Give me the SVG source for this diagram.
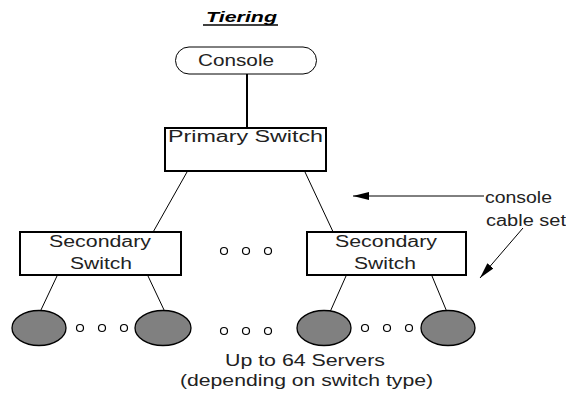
<svg xmlns="http://www.w3.org/2000/svg" width="566" height="393" viewBox="0 0 566 393">
<style>
text{font-family:"Liberation Sans",Arial,sans-serif;font-size:16px;fill:#222}
.title{font-weight:bold;font-style:italic;font-size:15px;fill:#000}
.box{fill:#fff;stroke:#000;stroke-width:2}
.cons{fill:#fff;stroke:#000;stroke-width:1}
.srv{fill:#808080;stroke:#000;stroke-width:1.3}
.dot{fill:#fff;stroke:#000;stroke-width:1.2}
.ln{stroke:#000;stroke-width:1;fill:none}
</style>
<defs>
<marker id="ah" viewBox="0 0 16 8" refX="16" refY="4" markerWidth="16" markerHeight="8" markerUnits="userSpaceOnUse" orient="auto">
<path d="M0,0 L16,4 L0,8 Z" fill="#000"/>
</marker>
</defs>
<text class="title" x="206" y="22" textLength="71" lengthAdjust="spacingAndGlyphs">Tiering</text>
<line x1="203" y1="25" x2="278" y2="25" stroke="#000" stroke-width="1.5"/>
<g id="connectors">
<line x1="247" y1="74" x2="247" y2="127" stroke="#000" stroke-width="2"/>
<line class="ln" x1="187" y1="172" x2="152" y2="234"/>
<line class="ln" x1="305" y1="172" x2="335" y2="236"/>
<line class="ln" x1="57" y1="276" x2="40" y2="312"/>
<line class="ln" x1="148" y1="276" x2="165" y2="312"/>
<line class="ln" x1="346" y1="276" x2="330" y2="312"/>
<line class="ln" x1="432" y1="276" x2="447" y2="312"/>
<line class="ln" x1="484" y1="196" x2="353" y2="196" marker-end="url(#ah)"/>
<line class="ln" x1="523" y1="228" x2="480" y2="278" marker-end="url(#ah)"/>
</g>
<g id="console">
<rect class="cons" x="175.5" y="47" width="141" height="27" rx="13.5" ry="13.5"/>
<text x="198" y="66" textLength="76" lengthAdjust="spacingAndGlyphs">Console</text>
</g>
<g id="primary-switch">
<rect class="box" x="165" y="128" width="161" height="43"/>
<text x="168" y="142" textLength="155" lengthAdjust="spacingAndGlyphs">Primary Switch</text>
</g>
<g id="secondary-switch-left">
<rect class="box" x="20" y="232" width="161" height="43"/>
<text x="49" y="247" textLength="102" lengthAdjust="spacingAndGlyphs">Secondary</text>
<text x="70" y="269" textLength="62" lengthAdjust="spacingAndGlyphs">Switch</text>
</g>
<g id="secondary-switch-right">
<rect class="box" x="307" y="232" width="159" height="43"/>
<text x="335" y="247" textLength="102" lengthAdjust="spacingAndGlyphs">Secondary</text>
<text x="354" y="269" textLength="62" lengthAdjust="spacingAndGlyphs">Switch</text>
</g>
<g id="dots-middle-top">
<circle class="dot" cx="224" cy="251" r="3.5"/>
<circle class="dot" cx="246" cy="251" r="3.5"/>
<circle class="dot" cx="268" cy="251" r="3.5"/>
</g>
<g id="servers-left">
<ellipse class="srv" cx="39" cy="328" rx="27" ry="17.5"/>
<ellipse class="srv" cx="163" cy="328" rx="28" ry="17.5"/>
<circle class="dot" cx="80" cy="328" r="3.5"/>
<circle class="dot" cx="102" cy="328" r="3.5"/>
<circle class="dot" cx="124" cy="328" r="3.5"/>
</g>
<g id="dots-middle-bottom">
<circle class="dot" cx="224" cy="331" r="3.5"/>
<circle class="dot" cx="246" cy="331" r="3.5"/>
<circle class="dot" cx="268" cy="331" r="3.5"/>
</g>
<g id="servers-right">
<ellipse class="srv" cx="324" cy="328" rx="27" ry="17.5"/>
<ellipse class="srv" cx="448" cy="328" rx="27" ry="17.5"/>
<circle class="dot" cx="365" cy="328" r="3.5"/>
<circle class="dot" cx="387" cy="328" r="3.5"/>
<circle class="dot" cx="409" cy="328" r="3.5"/>
</g>
<g id="label-cable">
<text x="485" y="203" textLength="67" lengthAdjust="spacingAndGlyphs">console</text>
<text x="486" y="226" textLength="80" lengthAdjust="spacingAndGlyphs">cable set</text>
</g>
<g id="label-servers">
<text x="225" y="366" textLength="160" lengthAdjust="spacingAndGlyphs">Up to 64 Servers</text>
<text x="180" y="386" textLength="253" lengthAdjust="spacingAndGlyphs">(depending on switch type)</text>
</g>
</svg>
